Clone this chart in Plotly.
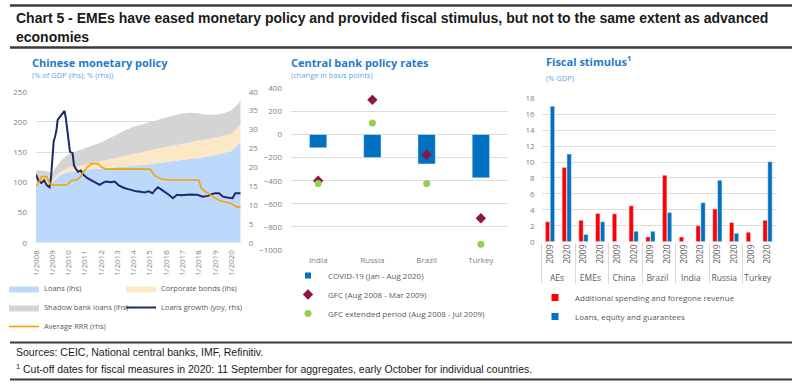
import plotly.graph_objects as go

# ---------------- Panel 1: Chinese monetary policy ----------------
area_dates = ["2008-01-01", "2008-07-01", "2009-01-01", "2009-04-01", "2009-07-01", "2009-10-01",
              "2010-01-01", "2010-07-01", "2011-01-01", "2011-07-01", "2012-01-01", "2012-07-01",
              "2013-01-01", "2013-07-01", "2014-01-01", "2014-07-01", "2015-01-01", "2015-07-01",
              "2016-01-01", "2016-07-01", "2017-01-01", "2017-07-01", "2018-01-01", "2018-07-01",
              "2019-01-01", "2019-07-01", "2020-01-01", "2020-04-01", "2020-07-01", "2020-08-01"]
loans = [98, 97, 100, 106, 112, 115, 117, 119, 121, 122, 123, 124, 125, 126, 127, 128, 130, 132,
         134, 136, 137, 139, 140, 142, 145, 148, 152, 158, 164, 167]
corporate_bonds = [3, 4, 4, 4, 5, 6, 7, 7, 7, 9, 12, 14, 16, 18, 21, 22, 23, 24, 25, 25, 27, 27,
                   29, 29, 29, 28, 28, 29, 29, 29]
shadow_loans = [19, 18, 12, 15, 18, 20, 22, 26, 28, 30, 31, 35, 39, 42, 44, 46, 47, 48, 49, 50, 50,
                49, 45, 41, 38, 38, 39, 39, 39, 43]

growth_dates = ["2008-01-01", "2008-03-01", "2008-05-01", "2008-07-01", "2008-09-01", "2008-11-01",
                "2008-12-01", "2009-01-01", "2009-02-01", "2009-03-01", "2009-04-01", "2009-05-01",
                "2009-06-01", "2009-07-01", "2009-08-01", "2009-09-01", "2009-10-01", "2009-11-01",
                "2009-12-01", "2010-02-01", "2010-03-01", "2010-04-01", "2010-05-01", "2010-06-01",
                "2010-08-01", "2010-10-01", "2010-12-01", "2011-03-01", "2011-06-01", "2011-09-01",
                "2011-12-01", "2012-03-01", "2012-05-01", "2012-08-01", "2012-11-01", "2013-02-01",
                "2013-06-01", "2013-09-01", "2013-12-01", "2014-03-01", "2014-06-01", "2014-09-01",
                "2014-12-01", "2015-03-01", "2015-05-01", "2015-07-01", "2015-09-01", "2015-12-01",
                "2016-03-01", "2016-06-01", "2016-09-01", "2016-12-01", "2017-03-01", "2017-07-01",
                "2017-10-01", "2017-12-01", "2018-04-01", "2018-08-01", "2018-10-01", "2019-01-01",
                "2019-04-01", "2019-07-01", "2019-10-01", "2019-12-01", "2020-02-01", "2020-04-01",
                "2020-08-01"]
loans_growth = [18.0, 16.3, 15.8, 16.5, 15.2, 14.7, 17.0, 21.0, 26.8, 28.0, 29.5, 32.5, 33.0, 33.2,
                34.0, 34.5, 34.9, 33.0, 30.3, 24.1, 23.9, 23.7, 20.6, 19.8, 18.8, 19.1, 18.0, 17.1,
                16.5, 15.8, 15.3, 16.0, 16.2, 16.0, 16.2, 15.2, 14.5, 14.2, 13.8, 13.6, 13.5, 13.3,
                13.6, 13.1, 14.0, 14.7, 14.2, 13.5, 12.7, 11.8, 12.7, 12.6, 12.7, 12.8, 12.7, 12.7,
                12.2, 12.4, 12.8, 13.1, 13.1, 12.2, 12.0, 11.8, 11.8, 13.1, 13.1]

rrr_dates = ["2008-01-01", "2008-02-01", "2008-04-01", "2008-05-01", "2008-09-01", "2008-10-01",
             "2008-12-01", "2009-12-01", "2010-01-01", "2010-02-01", "2010-05-01", "2010-07-01",
             "2010-10-01", "2010-12-01", "2011-03-01", "2011-06-01", "2011-11-01", "2011-12-01",
             "2012-02-01", "2012-05-01", "2015-01-01", "2015-02-01", "2015-04-01", "2015-06-01",
             "2015-09-01", "2015-10-01", "2016-03-01", "2018-01-01", "2018-03-01", "2018-06-01",
             "2018-10-01", "2019-01-01", "2019-05-01", "2020-01-01", "2020-05-01", "2020-08-01"]
avg_rrr = [15.0, 15.5, 16.5, 17.5, 17.5, 16.5, 15.3, 15.3, 15.8, 16.2, 16.6, 16.6, 17.5, 18.8,
           20.0, 20.9, 20.9, 20.4, 19.9, 19.5, 19.5, 19.0, 18.0, 17.5, 17.0, 16.8, 16.6, 16.6,
           14.4, 13.5, 12.6, 11.8, 11.1, 10.4, 9.5, 9.5]

year_ticks = ["%d-01-01" % y for y in range(2008, 2021)]
year_labels = ["1/%d" % y for y in range(2008, 2021)]

# ---------------- Panel 2: Central bank policy rates ----------------
cb_countries = ["India", "Russia", "Brazil", "Turkey"]
covid_change = [-115, -200, -255, -375]
gfc_change = [-400, 300, -175, -725]
gfc_ext_change = [-425, 100, -425, -950]

# ---------------- Panel 3: Fiscal stimulus ----------------
fs_groups = ["AEs", "AEs", "EMEs", "EMEs", "China", "China", "Brazil", "Brazil",
             "India", "India", "Russia", "Russia", "Turkey", "Turkey"]
fs_years = ["2009", "2020"] * 7
spending = [2.5, 9.3, 2.7, 3.55, 3.5, 4.5, 0.6, 8.35, 0.6, 2.0, 4.1, 2.4, 1.2, 2.7]
loans_eq = [17.0, 11.0, 0.9, 2.5, 0, 1.3, 1.3, 3.65, 0, 4.9, 7.7, 1.05, 0, 10.05]

# ---------------- styling ----------------
W, H = 800, 384
FONT = "Open Sans"
TICK = dict(family=FONT, size=8, color="#7f7f7f")
GRID = "#dcdcdc"
TITLE_BLUE = "#1f7bcb"
SUB_BLUE = "#62a6e2"
BLUE = "#0070c0"
RED = "#ff0000"
RULE = "#3a3a3a"


def px_x(p):
    return p / W


def px_y(p):
    return 1 - p / H


fig = go.Figure()

# Panel 1 traces
fig.add_trace(go.Scatter(x=area_dates, y=loans, name="Loans (lhs)", stackgroup="cn",
                         mode="lines", line=dict(width=0, color="#bcd9fb"), fillcolor="#bcd9fb",
                         xaxis="x", yaxis="y", legend="legend"))
fig.add_trace(go.Scatter(x=area_dates, y=corporate_bonds, name="Corporate bonds (lhs)", stackgroup="cn",
                         mode="lines", line=dict(width=0, color="#fde8c6"), fillcolor="#fde8c6",
                         xaxis="x", yaxis="y", legend="legend2"))
fig.add_trace(go.Scatter(x=area_dates, y=shadow_loans, name="Shadow bank loans (lhs)", stackgroup="cn",
                         mode="lines", line=dict(width=0, color="#d4d4d4"), fillcolor="#d4d4d4",
                         xaxis="x", yaxis="y", legend="legend"))
fig.add_trace(go.Scatter(x=growth_dates, y=loans_growth, name="Loans growth (yoy, rhs)", mode="lines",
                         line=dict(width=2, color="#1c2a6b"), xaxis="x", yaxis="y2", legend="legend2"))
fig.add_trace(go.Scatter(x=rrr_dates, y=avg_rrr, name="Average RRR (rhs)", mode="lines",
                         line=dict(width=1.6, color="#f5a300"), xaxis="x", yaxis="y2", legend="legend"))

# Panel 2 traces
fig.add_trace(go.Bar(x=cb_countries, y=covid_change, name="COVID-19 (Jan - Aug 2020)",
                     marker=dict(color=BLUE), width=0.32, xaxis="x3", yaxis="y3",
                     showlegend=False, legendgroup="covid"))
fig.add_trace(go.Scatter(x=[None], y=[None], name="COVID-19 (Jan - Aug 2020)", mode="markers",
                         marker=dict(symbol="square", size=6, color=BLUE), xaxis="x3", yaxis="y3",
                         legend="legend3", legendgroup="covid"))
fig.add_trace(go.Scatter(x=cb_countries, y=gfc_change, name="GFC (Aug 2008 - Mar 2009)", mode="markers",
                         marker=dict(symbol="diamond", size=8, color="#8c1640"), xaxis="x3", yaxis="y3",
                         legend="legend3"))
fig.add_trace(go.Scatter(x=cb_countries, y=gfc_ext_change, name="GFC extended period (Aug 2008 - Jul 2009)",
                         mode="markers", marker=dict(symbol="circle", size=7, color="#92d050"),
                         xaxis="x3", yaxis="y3", legend="legend3"))

# Panel 3 traces
fig.add_trace(go.Bar(x=[fs_groups, fs_years], y=spending, name="Additional spending and foregone revenue",
                     marker=dict(color=RED), width=0.26, offset=-0.28, xaxis="x4", yaxis="y4",
                     showlegend=False, legendgroup="spend"))
fig.add_trace(go.Bar(x=[fs_groups, fs_years], y=loans_eq, name="Loans, equity and guarantees",
                     marker=dict(color=BLUE), width=0.26, offset=0.01, xaxis="x4", yaxis="y4",
                     showlegend=False, legendgroup="loaneq"))
fig.add_trace(go.Scatter(x=[None], y=[None], name="Additional spending and foregone revenue",
                         mode="markers", marker=dict(symbol="square", size=7, color=RED),
                         xaxis="x3", yaxis="y3", legend="legend4", legendgroup="spend"))
fig.add_trace(go.Scatter(x=[None], y=[None], name="Loans, equity and guarantees",
                         mode="markers", marker=dict(symbol="square", size=7, color=BLUE),
                         xaxis="x3", yaxis="y3", legend="legend4", legendgroup="loaneq"))

# Decorative page rules (top frame) on a hidden full-page overlay axis
fig.add_trace(go.Scatter(x=[10, 792, None, 10, 792], y=[5.5, 5.5, None, 47.5, 47.5], mode="lines",
                         line=dict(color=RULE, width=2), xaxis="x5", yaxis="y5",
                         showlegend=False, hoverinfo="skip"))


def leg(x, y, size):
    return dict(bgcolor="rgba(0,0,0,0)", font=dict(family=FONT, size=size, color="#595959"),
                orientation="v", xanchor="left", yanchor="top", itemwidth=30, tracegroupgap=0,
                traceorder="normal", x=px_x(x), y=px_y(y))


fig.update_layout(
    width=W, height=H,
    margin=dict(l=0, r=0, t=0, b=0, autoexpand=False),
    paper_bgcolor="white", plot_bgcolor="rgba(0,0,0,0)",
    font=dict(family=FONT, size=8, color="#7f7f7f"),
    barmode="group",
    xaxis=dict(domain=[px_x(36), px_x(240.7)], anchor="y", type="date",
               range=["2008-01-01", "2020-08-01"], tickvals=year_ticks, ticktext=year_labels,
               tickangle=-90, tickfont=TICK, showgrid=False, zeroline=False, showline=False,
               ticks="", ticklabelstandoff=5),
    yaxis=dict(domain=[px_y(242.7), px_y(91.7)], anchor="x", range=[0, 250], dtick=50,
               tickfont=TICK, gridcolor=GRID, zeroline=False, showline=False, ticks="",
               ticklabelstandoff=8),
    yaxis2=dict(overlaying="y", anchor="x", side="right", range=[0, 40], dtick=5,
                tickfont=TICK, showgrid=False, zeroline=False, showline=False, ticks="",
                ticklabelstandoff=7),
    xaxis3=dict(domain=[px_x(291), px_x(508)], anchor="y3", tickfont=TICK, showgrid=False,
                zeroline=False, showline=False, ticks="", ticklabelstandoff=4),
    yaxis3=dict(domain=[px_y(250), px_y(88.3)], anchor="x3", range=[-1000, 400], dtick=200,
                tickfont=TICK, gridcolor=GRID, zeroline=False, showline=False, ticks="",
                ticklabelstandoff=8),
    xaxis4=dict(domain=[px_x(541.7), px_x(776)], anchor="y4", type="multicategory",
                tickfont=dict(family=FONT, size=8.5, color="#595959"), tickangle=-90,
                showgrid=False, zeroline=False, showline=False, ticks="",
                showdividers=True, dividercolor="#d9d9d9", dividerwidth=1),
    yaxis4=dict(domain=[px_y(241.7), px_y(98.3)], anchor="x4", range=[0, 18], dtick=2,
                tickfont=TICK, gridcolor=GRID, zeroline=False, showline=False, ticks="",
                ticklabelstandoff=6),
    xaxis5=dict(domain=[0, 1], anchor="y5", range=[0, W], visible=False, fixedrange=True),
    yaxis5=dict(domain=[0, 1], anchor="x5", range=[H, 0], visible=False, fixedrange=True),
    legend=leg(4, 274, 7.5),
    legend2=leg(121, 274, 7.5),
    legend3=leg(288, 261, 8),
    legend4=leg(535, 283, 8),
)

ann = []


def text(x, y, s, size, color, family=FONT, bold=False):
    ann.append(dict(x=px_x(x), y=px_y(y), xref="paper", yref="paper", xanchor="left",
                    yanchor="middle", showarrow=False, text=("<b>%s</b>" % s) if bold else s,
                    font=dict(family=family, size=size, color=color)))


text(14, 18, "Chart 5 - EMEs have eased monetary policy and provided fiscal stimulus, but not to the same extent as advanced",
     14, "#1a1a1a", family="Liberation Sans", bold=True)
text(14, 37, "economies", 14, "#1a1a1a", family="Liberation Sans", bold=True)

text(30, 62, "Chinese monetary policy", 11, TITLE_BLUE, bold=True)
text(30, 75, "(% of GDP (lhs); % (rhs))", 7.5, SUB_BLUE)
text(289, 62, "Central bank policy rates", 11, TITLE_BLUE, bold=True)
text(289, 75, "(change in basis points)", 7.5, SUB_BLUE)
text(544, 61, "Fiscal stimulus<sup>1</sup>", 11, TITLE_BLUE, bold=True)
text(544, 78, "(% GDP)", 7.5, SUB_BLUE)

text(14, 352, "Sources: CEIC, National central banks, IMF, Refinitiv.", 10.5, "#1a1a1a", family="Liberation Sans")
text(14, 368, "<sup>1</sup> Cut-off dates for fiscal measures in 2020: 11 September for aggregates, early October for individual countries.",
     10.5, "#1a1a1a", family="Liberation Sans")

shapes = []
for yy in (5.5, 47.5, 342.5, 379.5):
    shapes.append(dict(type="line", xref="paper", yref="paper", x0=px_x(10), x1=px_x(792),
                       y0=px_y(yy), y1=px_y(yy), layer="above",
                       line=dict(color=RULE, width=2)))

fig.update_layout(annotations=ann, shapes=shapes)

fig.write_html("out.html", config={"displayModeBar": False},
               post_script="document.body.style.margin='0px';")
